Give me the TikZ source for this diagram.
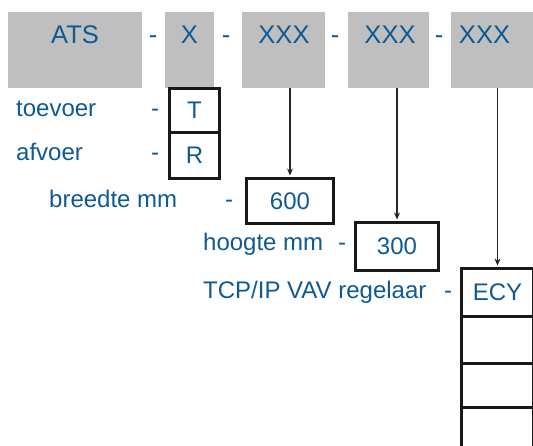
\documentclass[tikz,border=0pt]{standalone}
\usepackage{fontspec}
\setmainfont{Liberation Sans}
\usetikzlibrary{arrows.meta}
\definecolor{tblue}{HTML}{0E5A94}
\definecolor{gbox}{HTML}{BFBFBF}
\begin{document}
\begin{tikzpicture}[x=1pt,y=-1pt,
  graybox/.style={fill=gbox,draw=none,inner sep=0pt,anchor=north west},
  toptxt/.style={anchor=base,inner sep=0pt,text=tblue,font=\fontsize{25.5}{30}\selectfont},
  lowtxt/.style={anchor=base west,inner sep=0pt,text=tblue,font=\fontsize{24}{28}\selectfont},
  dashtxt/.style={anchor=base,inner sep=0pt,text=tblue,font=\fontsize{24}{28}\selectfont},
  bbox/.style={draw=black!90,line width=3pt,inner sep=0pt,anchor=north west,text=tblue,font=\fontsize{24}{28}\selectfont},
  arr/.style={draw=black!85,line width=1.3pt,-{Stealth[length=7pt,width=6pt]},shorten >=1.5pt}]
\useasboundingbox (0,0) rectangle (533,445);
\clip (0,0) rectangle (533,445);
% gray code boxes
\node[graybox,minimum width=134pt,minimum height=76pt] (ats) at (8,12) {};
\node[graybox,minimum width=49pt,minimum height=76pt] (xb) at (165,12) {};
\node[graybox,minimum width=83pt,minimum height=76pt] (xxa) at (242,12) {};
\node[graybox,minimum width=81pt,minimum height=76pt] (xxb) at (348,12) {};
\node[graybox,minimum width=90pt,minimum height=76pt] (xxc) at (451,12) {};
\node[toptxt] (atst) at (75,43) {ATS};
\node[toptxt] (xbt) at (189.5,43) {X};
\node[toptxt] (xxat) at (284,43) {XXX};
\node[toptxt] (xxbt) at (390,43) {XXX};
\node[toptxt] (xxct) at (484.5,43) {XXX};
\node[toptxt] (d1) at (153,43) {-};
\node[toptxt] (d2) at (226,43) {-};
\node[toptxt] (d3) at (335,43) {-};
\node[toptxt] (d4) at (439,43) {-};
% left labels
\node[lowtxt] (toe) at (16,116) {toevoer};
\node[dashtxt] (dtoe) at (155,116) {-};
\node[lowtxt] (afv) at (16,160) {afvoer};
\node[dashtxt] (dafv) at (155,160) {-};
\node[lowtxt] (bre) at (49,207) {breedte mm};
\node[dashtxt] (dbre) at (229,207) {-};
\node[lowtxt] (hoo) at (203,250) {hoogte mm};
\node[dashtxt] (dhoo) at (342,250) {-};
\node[lowtxt] (tcp) at (203,298) {TCP/IP VAV regelaar};
\node[dashtxt] (dtcp) at (448,298) {-};
% bordered boxes
\node[bbox,minimum width=50pt,minimum height=44pt] (bt) at (168,87) {T};
\node[bbox,minimum width=50pt,minimum height=46pt] (br) at (168,131) {R};
\node[bbox,minimum width=87pt,minimum height=45pt] (b600) at (245,177) {600};
\node[bbox,minimum width=83pt,minimum height=48pt] (b300) at (354,221) {300};
\node[bbox,minimum width=72pt,minimum height=48pt] (ecy) at (460,267) {ECY};
\node[bbox,minimum width=72pt,minimum height=47pt] (e2) at (460,315) {};
\node[bbox,minimum width=72pt,minimum height=44pt] (e3) at (460,362) {};
\node[bbox,minimum width=72pt,minimum height=50pt] (e4) at (460,406) {};
% arrows
\draw[arr] (xxa.south -| b600.north) -- (b600.north);
\draw[arr] (xxb.south -| b300.north) -- (b300.north);
\draw[arr] (xxc.south -| ecy.north) -- (ecy.north);
\end{tikzpicture}
\end{document}
